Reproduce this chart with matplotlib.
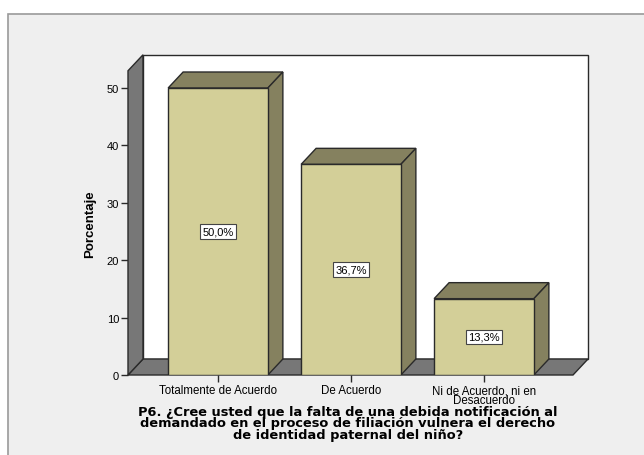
import matplotlib.pyplot as plt
from matplotlib.patches import Polygon, Rectangle

categorias = ['Totalmente de Acuerdo', 'De Acuerdo', 'Ni de Acuerdo, ni en\nDesacuerdo']
porcentajes = [50.0, 36.7, 13.3]
etiquetas = ['50,0%', '36,7%', '13,3%']
yticks = [0, 10, 20, 30, 40, 50]
titulo = ('P6. ¿Cree usted que la falta de una debida notificación al\n'
          'demandado en el proceso de filiación vulnera el derecho\n'
          'de identidad paternal del niño?')

c_frente = '#d3cf98'
c_lado = '#85815f'
c_pared = '#777777'
borde = '#2a2a2a'

fig = plt.figure(figsize=(6.44, 4.56), dpi=100)
fig.patch.set_facecolor('white')
# marco gris de fondo
fig.patches.append(Rectangle((8 / 644, -0.1), 1.1, (456 - 15) / 456 + 0.1,
                             transform=fig.transFigure, facecolor='#efefef',
                             edgecolor='#9a9a9a', lw=1.2, zorder=-10))

ax = fig.add_axes([128 / 644, (456 - 376) / 456, 460 / 644, 320 / 456])
ax.set_zorder(5)
ax.set_facecolor('none')
for s in ax.spines.values():
    s.set_visible(False)

px_x = 133.0   # pixeles por categoria
px_y = 5.74    # pixeles por punto porcentual
x0 = -90 / px_x
x1 = x0 + 445 / px_x
dx = 15 / px_x
dy = 16 / px_y
ytop = 53.0
ancho = 0.75

ax.set_xlim(x0, x0 + 460 / px_x)
ax.set_ylim(0, 320 / px_y)

# pared del fondo, piso y pared izquierda
ax.add_patch(Rectangle((x0 + dx, dy), x1 - x0, ytop, facecolor='white',
                       edgecolor=borde, lw=1, zorder=1, clip_on=False))
ax.add_patch(Polygon([(x0, 0), (x1, 0), (x1 + dx, dy), (x0 + dx, dy)],
                     facecolor=c_pared, edgecolor=borde, lw=1, zorder=2, clip_on=False))
ax.add_patch(Polygon([(x0, 0), (x0, ytop), (x0 + dx, ytop + dy), (x0 + dx, dy)],
                     facecolor=c_pared, edgecolor=borde, lw=1, zorder=2, clip_on=False))

for i, (v, et) in enumerate(zip(porcentajes, etiquetas)):
    a = i - ancho / 2
    b = i + ancho / 2
    ax.add_patch(Polygon([(a, v), (b, v), (b + dx, v + dy), (a + dx, v + dy)],
                         facecolor=c_lado, edgecolor=borde, lw=1, zorder=3))
    ax.add_patch(Polygon([(b, 0), (b, v), (b + dx, v + dy), (b + dx, dy)],
                         facecolor=c_lado, edgecolor=borde, lw=1, zorder=3))
    ax.add_patch(Rectangle((a, 0), ancho, v, facecolor=c_frente,
                           edgecolor=borde, lw=1, zorder=4))
    ax.text(i, v / 2, et, ha='center', va='center', fontsize=8,
            family='Liberation Sans', zorder=5,
            bbox=dict(boxstyle='square,pad=0.2', facecolor='white',
                      edgecolor='#444444', lw=0.8))

ax.set_yticks(yticks)
ax.set_yticklabels([str(t) for t in yticks], fontsize=8, family='Liberation Sans')
ax.set_xticks(range(len(categorias)))
ax.set_xticklabels(categorias, fontsize=8.3, family='Liberation Sans',
                   linespacing=0.8)
ax.tick_params(axis='both', direction='out', length=5, width=1, color=borde, pad=1.5)

fig.text(90 / 644, 1 - 224 / 456, 'Porcentaje', rotation=90, ha='center',
         va='center', fontsize=9.5, fontweight='bold', family='Liberation Sans')
fig.text(348 / 644, 1 - 424 / 456, titulo, ha='center', va='center',
         fontsize=9.4, fontweight='bold', family='DejaVu Sans', linespacing=0.82)

fig.savefig('out.png', dpi=100)
